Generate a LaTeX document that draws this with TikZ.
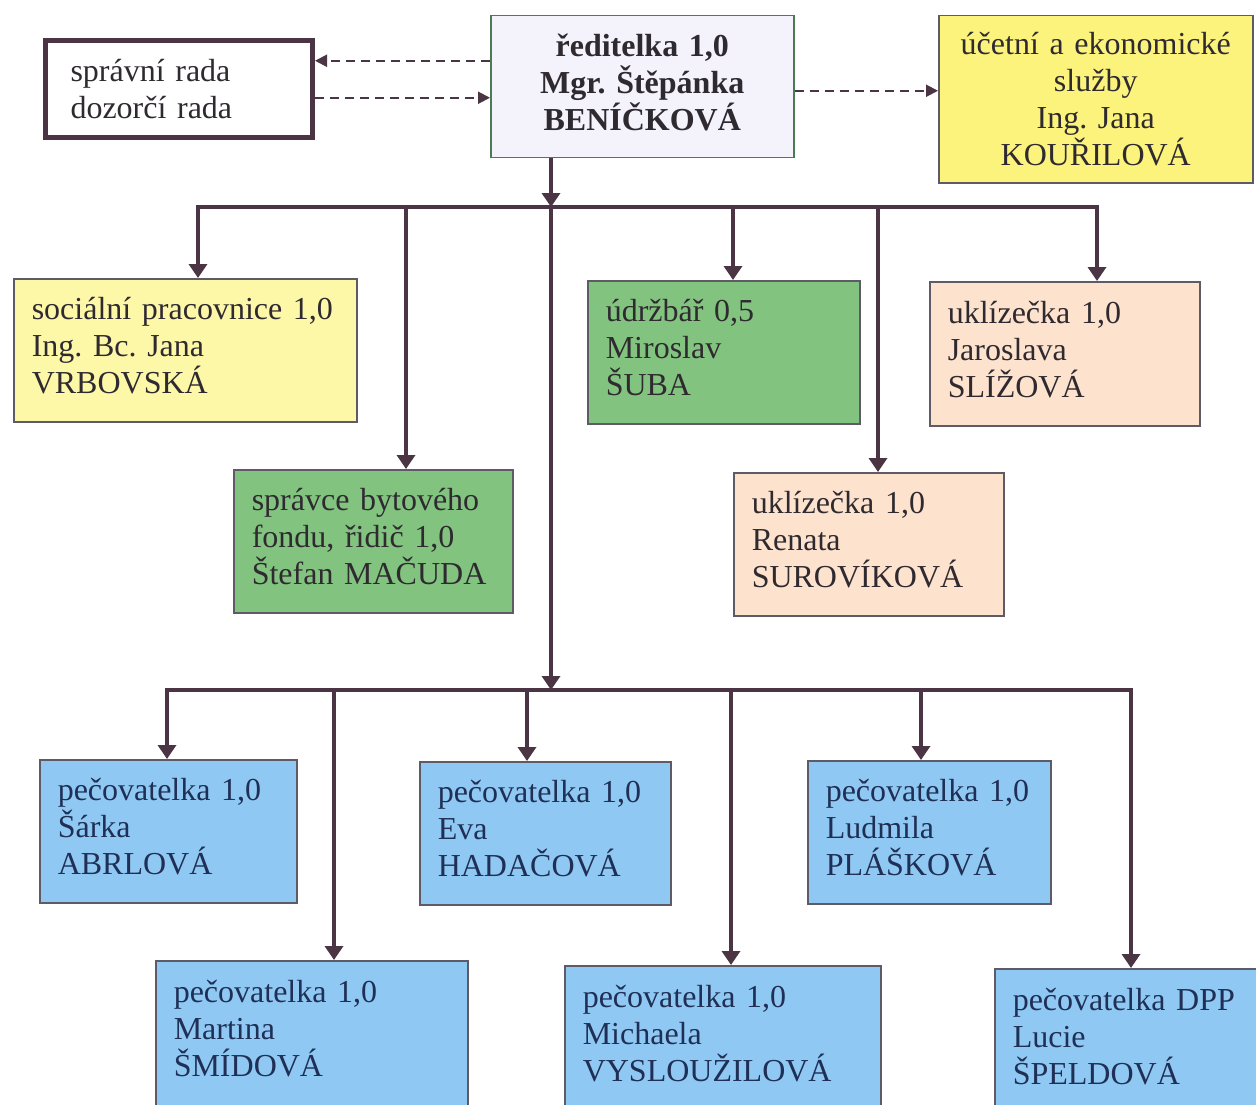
\documentclass[tikz,border=0pt]{standalone}
\usepackage{fontspec}
\setmainfont{Liberation Serif}
\usetikzlibrary{arrows.meta}
\definecolor{ln}{HTML}{4B3545}
\definecolor{bd}{HTML}{5E5A66}
\definecolor{txt}{HTML}{2F2A30}
\definecolor{navy}{HTML}{1F2F55}
\definecolor{lav}{HTML}{F4F2FB}
\definecolor{yel}{HTML}{FBF37C}
\definecolor{lyel}{HTML}{FDF8A8}
\definecolor{grn}{HTML}{82C47F}
\definecolor{pch}{HTML}{FDE3CE}
\definecolor{blu}{HTML}{8FC9F3}
\frenchspacing
\begin{document}
\begin{tikzpicture}[x=1pt,y=-1pt,
  box/.style={draw=bd,line width=1.5pt,anchor=north west,inner xsep=18pt,inner ysep=0pt,align=left,font=\fontsize{32}{37}\selectfont\frenchspacing,text=txt},
  up/.style={execute at end node={\rule[-9pt]{0pt}{9pt}}},
  conn/.style={draw=ln,line width=4pt,-{Triangle[width=18pt,length=14pt]}},
  conn2/.style={draw=ln,line width=4pt,{Triangle[width=18pt,length=14pt]}-{Triangle[width=18pt,length=14pt]}},
  dsh/.style={draw=ln,line width=2pt,dash pattern=on 9pt off 6pt,-{Triangle[width=12pt,length=12pt]}}]
\useasboundingbox (0,0) rectangle (1256,1105);
\fill[white] (0,0) rectangle (1256,1105);
% boxes
\node[box,draw=ln,line width=5pt,inner xsep=25pt,text width=217pt,minimum width=267pt,minimum height=97pt,fill=white] (spr) at (43,38) {správní rada\\dozorčí rada};
\node[box,up,draw=bd!80!green,fill=lav,align=center,text width=267pt,minimum width=303pt,minimum height=142pt,font=\fontsize{32}{37}\selectfont\bfseries] (dir) at (490,15) {ředitelka 1,0\\Mgr. Štěpánka\\BENÍČKOVÁ};
\node[box,fill=yel,align=center,text width=278pt,minimum width=314pt,minimum height=167pt] (uce) at (938,15) {účetní a ekonomické\\služby\\Ing. Jana\\KOUŘILOVÁ};
\node[box,up,fill=lyel,text width=307pt,minimum height=143pt] (soc) at (13,278) {sociální pracovnice 1,0\\Ing. Bc. Jana\\VRBOVSKÁ};
\node[box,up,fill=grn,text width=236pt,minimum height=143pt] (udr) at (587,280) {údržbář 0,5\\Miroslav\\ŠUBA};
\node[box,up,fill=pch,text width=234pt,minimum height=144pt] (ukl1) at (929,281) {uklízečka 1,0\\Jaroslava\\SLÍŽOVÁ};
\node[box,up,fill=grn,text width=243pt,minimum height=143pt] (spc) at (233,469) {správce bytového\\fondu, řidič 1,0\\Štefan MAČUDA};
\node[box,up,fill=pch,text width=234pt,minimum height=143pt] (ukl2) at (733,472) {uklízečka 1,0\\Renata\\SUROVÍKOVÁ};
\node[box,up,fill=blu,text=navy,text width=221pt,minimum height=143pt] (p1) at (39,759) {pečovatelka 1,0\\Šárka\\ABRLOVÁ};
\node[box,up,fill=blu,text=navy,text width=215pt,minimum height=143pt] (p2) at (419,761) {pečovatelka 1,0\\Eva\\HADAČOVÁ};
\node[box,up,fill=blu,text=navy,text width=207pt,minimum height=143pt] (p3) at (807,760) {pečovatelka 1,0\\Ludmila\\PLÁŠKOVÁ};
\node[box,up,fill=blu,text=navy,text width=276pt,minimum height=145pt] (p4) at (155,960) {pečovatelka 1,0\\Martina\\ŠMÍDOVÁ};
\node[box,up,fill=blu,text=navy,text width=280pt,minimum height=145pt] (p5) at (564,965) {pečovatelka 1,0\\Michaela\\VYSLOUŽILOVÁ};
\node[box,up,fill=blu,text=navy,text width=234pt,minimum height=145pt] (p6) at (994,968) {pečovatelka DPP\\Lucie\\ŠPELDOVÁ};
% dashed links
\draw[dsh] ([yshift=26pt]dir.west) -- ([yshift=26pt]dir.west -| spr.east);
\draw[dsh] ([yshift=-11pt]dir.west -| spr.east) -- ([yshift=-11pt]dir.west);
\draw[dsh] ([yshift=-4pt]dir.east) -- ([yshift=-4pt]dir.east -| uce.west);
% bus coordinates
\coordinate (j1) at (551,207);
\coordinate (j2) at (551,690);
\coordinate (a1) at (198,207);
\coordinate (a2) at (406,207);
\coordinate (a3) at (733,207);
\coordinate (a4) at (878,207);
\coordinate (a5) at (1097,207);
\coordinate (b1) at (167,690);
\coordinate (b2) at (334,690);
\coordinate (b3) at (527,690);
\coordinate (b4) at (731,690);
\coordinate (b5) at (921,690);
\coordinate (b6) at (1131,690);
% solid connectors
\draw[conn2] (a1 |- soc.north) -- (a1) -- (a5) -- (a5 |- ukl1.north);
\draw[conn] (a2) -- (a2 |- spc.north);
\draw[conn] (a3) -- (a3 |- udr.north);
\draw[conn] (a4) -- (a4 |- ukl2.north);
\draw[conn2] (b1 |- p1.north) -- (b1) -- (b6) -- (b6 |- p6.north);
\draw[conn] (b2) -- (b2 |- p4.north);
\draw[conn] (b3) -- (b3 |- p2.north);
\draw[conn] (b4) -- (b4 |- p5.north);
\draw[conn] (b5) -- (b5 |- p3.north);
\draw[conn] (j1 |- dir.south) -- (j1);
\draw[conn] (j1) -- (j2);
\end{tikzpicture}
\end{document}
